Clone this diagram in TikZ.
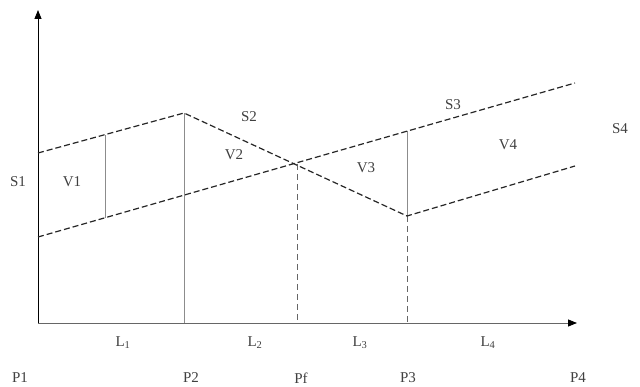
\documentclass[tikz,border=0pt]{standalone}
\usepackage{fontspec}
\setmainfont{Liberation Serif}
\usetikzlibrary{arrows.meta}
\begin{document}
\begin{tikzpicture}[x=1pt,y=-1pt,
  lbl/.style={font=\fontsize{15}{16}\selectfont, text=black!75, inner sep=1pt},
  dline/.style={dash pattern=on 6pt off 3pt, line width=1.2pt, black!85},
  thin/.style={line width=0.5pt, black!45},
  thindash/.style={dash pattern=on 6pt off 4pt, line width=0.7pt, black!60},
  axis/.style={line width=0.8pt, -{Triangle[length=9pt,width=7pt,color=black]}}]
\useasboundingbox (0,0) rectangle (640,387);
% key points
\coordinate (O) at (38,323);
\coordinate (ytop) at (38,10);
\coordinate (xend) at (577,323);
\coordinate (A) at (38,153);   % upper start
\coordinate (B) at (184,113);  % peak
\coordinate (C) at (407,216);  % valley
\coordinate (D) at (575,166);  % upper end
\coordinate (E) at (38,237);   % lower start
\coordinate (F) at (575,83);   % lower end
\coordinate (X) at (297,164);  % crossing
\coordinate (v1t) at (105,135);
\coordinate (v1b) at (105,218);
\coordinate (p3t) at (407,131);
\coordinate (P2a) at (184,323);
\coordinate (Pfa) at (297,323);
\coordinate (P3a) at (407,323);
% verticals
\draw[thin] (v1t) -- (v1b);
\draw[thin] (B) -- (P2a);
\draw[thindash] (X) -- (Pfa);
\draw[thin] (p3t) -- (C);
\draw[thindash] (C) -- (P3a);
% axes
\draw[axis, black!60] (O) -- (xend);
\draw[axis, black] (O) -- (ytop);
% dashed lines
\draw[dline] (A) -- (B) -- (C) -- (D);
\draw[dline] (E) -- (F);
% labels
\node[lbl] (s1) at (18,182) {S1};
\node[lbl] (v1) at (72,182) {V1};
\node[lbl, fill=white] (s2) at (249,117) {S2};
\node[lbl] (v2) at (234,155) {V2};
\node[lbl] (v3) at (366,168) {V3};
\node[lbl, fill=white] (s3) at (453,105) {S3};
\node[lbl] (v4) at (508,145) {V4};
\node[lbl] (s4) at (620,129) {S4};
\node[lbl] (l1) at (123,343) {L\textsubscript{1}};
\node[lbl] (l2) at (255,343) {L\textsubscript{2}};
\node[lbl] (l3) at (360,343) {L\textsubscript{3}};
\node[lbl] (l4) at (488,343) {L\textsubscript{4}};
\node[lbl] (p1) at (20,378) {P1};
\node[lbl] (p2) at (191,378) {P2};
\node[lbl] (pf) at (301,378) {Pf};
\node[lbl] (p3) at (408,378) {P3};
\node[lbl] (p4) at (578,378) {P4};
\end{tikzpicture}
\end{document}
